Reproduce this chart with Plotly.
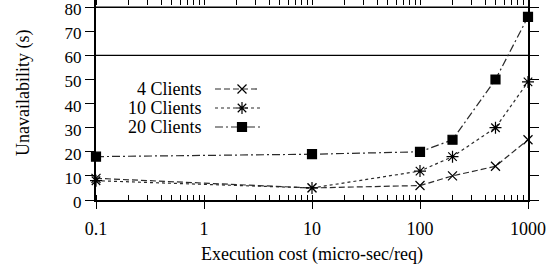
import plotly.graph_objects as go

# ---- data ----
exec_cost = [0.1, 10, 100, 200, 500, 1000]
clients4 = [9, 5, 6, 10, 14, 25]
clients10 = [8, 5, 12, 18, 30, 49]
clients20 = [18, 19, 20, 25, 50, 76]
series_names = ["4 Clients", "10 Clients", "20 Clients"]
x_tickvals = [0.1, 1, 10, 100, 1000]
x_ticktext = ["0.1", "1", "10", "100", "1000"]
y_tickvals = [0, 10, 20, 30, 40, 50, 60, 70, 80]
ref_lines = [60, 80]
x_title = "Execution cost (micro-sec/req)"
y_title = "Unavailability (s)"

FONT = "Liberation Serif"
INK = "#000000"
LINE = "#2a2a2a"

styles = [
    dict(dash="6px,3px", symbol="x-thin-open", size=9),
    dict(dash="3px,3px", symbol="asterisk-open", size=10),
    dict(dash="8px,3px,2px,3px", symbol="square", size=9),
]
values = [clients4, clients10, clients20]

fig = go.Figure()
for name, vals, st in zip(series_names, values, styles):
    fig.add_trace(go.Scatter(
        x=exec_cost, y=vals, name=name, mode="lines+markers",
        line=dict(color=LINE, width=1.2, dash=st["dash"]),
        marker=dict(symbol=st["symbol"], size=st["size"], color=INK,
                    line=dict(color=INK, width=1.2)),
        showlegend=False, cliponaxis=False,
    ))

# legend samples (gnuplot style: text left, sample right) on a hidden pixel axis
legend_rows = [89, 108, 127]
for name, st, yrow in zip(series_names, styles, legend_rows):
    fig.add_trace(go.Scatter(
        x=[215, 260], y=[yrow, yrow], mode="lines", xaxis="x2", yaxis="y2",
        line=dict(color=LINE, width=1.2, dash=st["dash"]), showlegend=False,
        hoverinfo="skip"))
    fig.add_trace(go.Scatter(
        x=[242], y=[yrow], mode="markers", xaxis="x2", yaxis="y2",
        marker=dict(symbol=st["symbol"], size=st["size"], color=INK,
                    line=dict(color=INK, width=1.2)),
        showlegend=False, hoverinfo="skip"))
    fig.add_annotation(x=204, y=yrow, xref="x2", yref="y2", text=name,
                       showarrow=False, xanchor="right", yanchor="middle",
                       font=dict(family=FONT, size=18, color=INK))

for v in ref_lines:
    fig.add_shape(type="line", xref="paper", x0=0, x1=1, yref="y", y0=v, y1=v,
                  line=dict(color=INK, width=1.3), layer="below")

# axis titles
fig.add_annotation(xref="paper", yref="paper", x=0.5, y=-0.275, text=x_title,
                   showarrow=False, xanchor="center", yanchor="middle",
                   font=dict(family=FONT, size=18, color=INK))
fig.add_annotation(xref="paper", yref="paper", x=-0.169, y=0.535, text=y_title,
                   showarrow=False, xanchor="center", yanchor="middle", textangle=-90,
                   font=dict(family=FONT, size=18, color=INK))

fig.update_layout(
    width=559, height=271,
    margin=dict(l=96, r=31, t=0, b=71, autoexpand=False),
    paper_bgcolor="white", plot_bgcolor="white",
    font=dict(family=FONT, size=18, color=INK),
    xaxis=dict(
        type="log", range=[-1, 3], automargin=False,
        tickvals=x_tickvals, ticktext=x_ticktext,
        ticks="outside", ticklen=7, tickwidth=1.3, tickcolor=INK,
        minor=dict(dtick="D1", ticks="inside", ticklen=5, tickwidth=1.3, tickcolor=INK),
        showline=True, linecolor=INK, linewidth=2, mirror="ticks",
        showgrid=False, zeroline=False, ticklabeloverflow="allow",
        ticklabelstandoff=4,
        tickfont=dict(family=FONT, size=18),
    ),
    yaxis=dict(
        range=[0, 83], automargin=False,
        tickvals=y_tickvals,
        ticks="outside", ticklen=9, tickwidth=1.3, tickcolor=INK,
        showline=True, linecolor=INK, linewidth=2, mirror="ticks",
        showgrid=False, zeroline=False, ticklabeloverflow="allow",
        ticklabelshift=2,
        tickfont=dict(family=FONT, size=17),
    ),
    xaxis2=dict(overlaying="x", range=[96, 528], visible=False, anchor="y2"),
    yaxis2=dict(overlaying="y", range=[200, 0], visible=False, anchor="x2"),
)

fig.write_html("out.html", config={"displayModeBar": False},
               post_script="document.body.style.margin='0';")
